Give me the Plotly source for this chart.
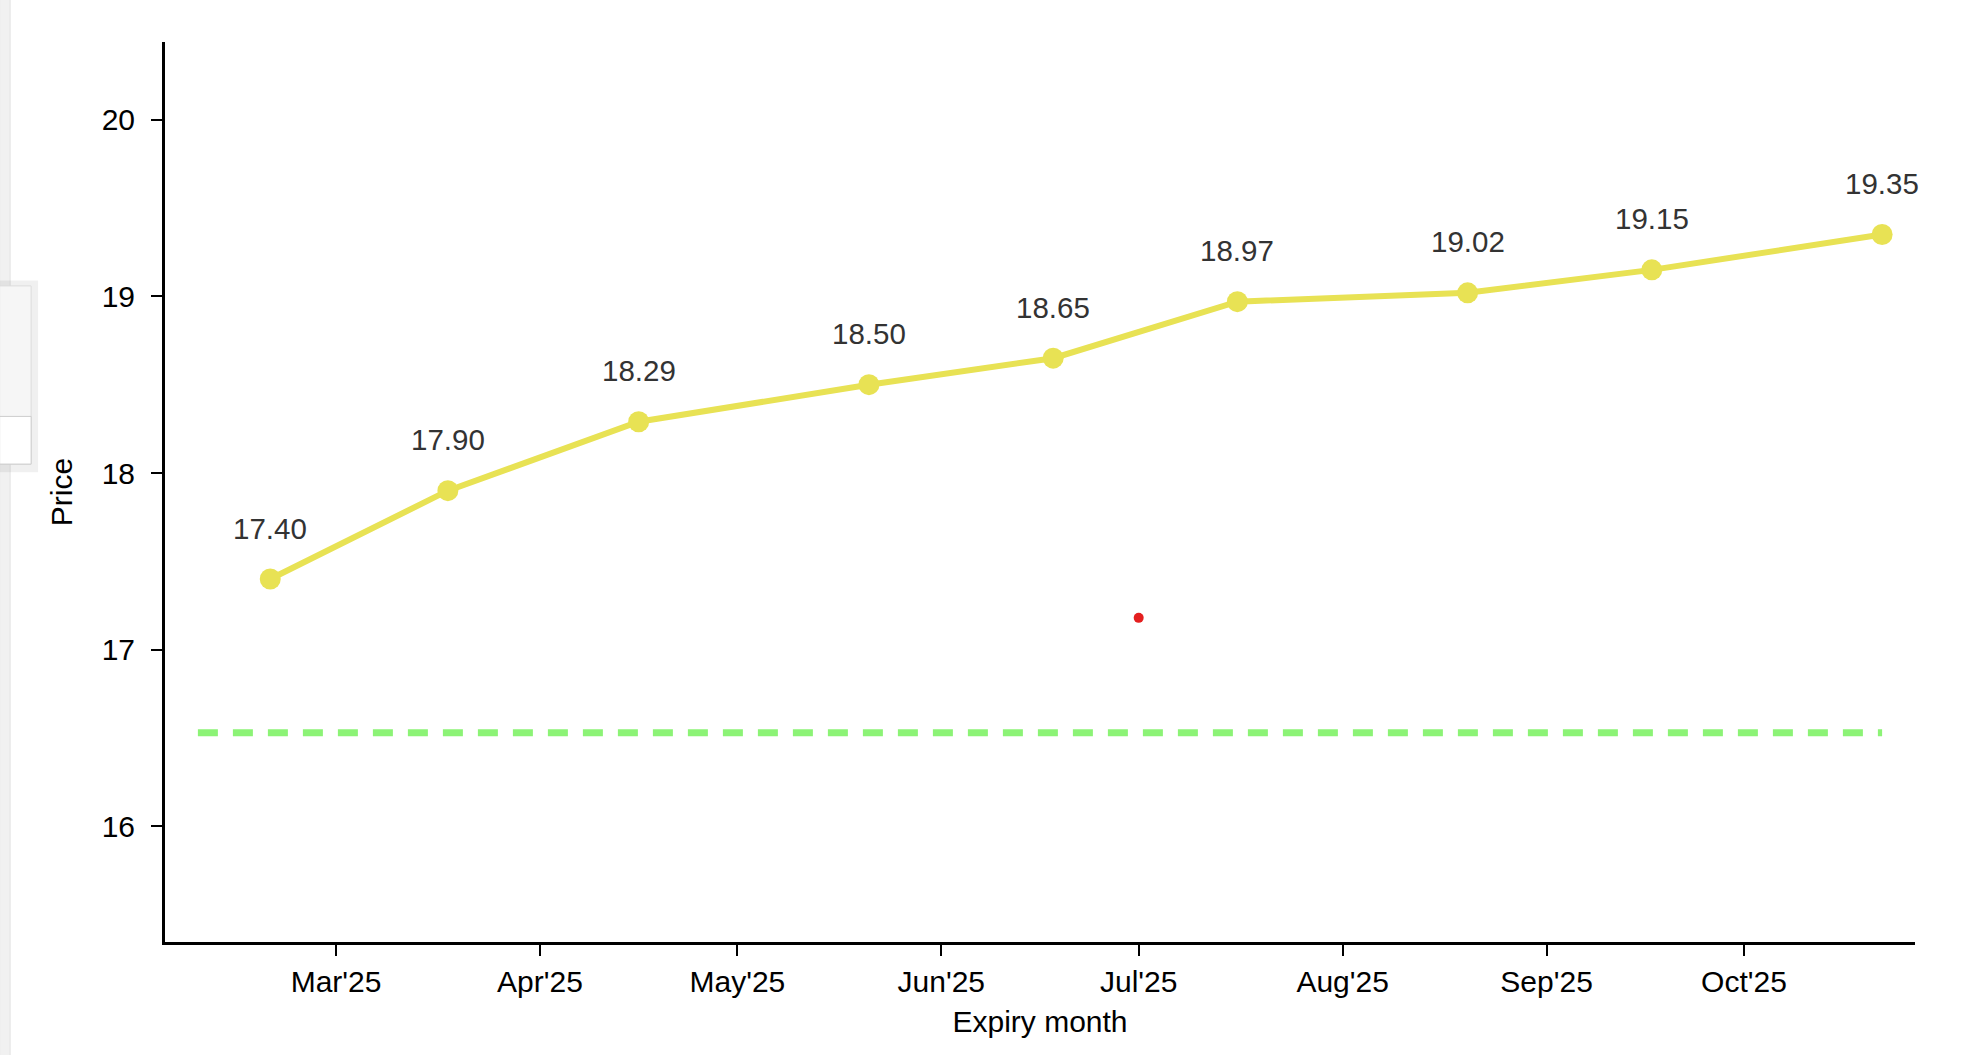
import plotly.graph_objects as go

# VIX-style futures curve by expiry
expiry = ["2025-02-19", "2025-03-18", "2025-04-16", "2025-05-21", "2025-06-18",
          "2025-07-16", "2025-08-20", "2025-09-17", "2025-10-22"]
price = [17.40, 17.90, 18.29, 18.50, 18.65, 18.97, 19.02, 19.15, 19.35]
price_labels = ["%.2f" % p for p in price]

# spot level drawn as a dashed reference line
spot_x = ["2025-02-08", "2025-10-22"]
spot_y = [16.53, 16.53]

# single red marker
marker_x = ["2025-07-01"]
marker_y = [17.18]

font_family = "Arial, Liberation Sans, sans-serif"

fig = go.Figure()
fig.add_trace(go.Scatter(x=spot_x, y=spot_y, mode="lines",
                         line=dict(color="#8cf376", width=7, dash="20px,15px"),
                         hoverinfo="skip"))
fig.add_trace(go.Scatter(x=expiry, y=price, mode="lines+markers",
                         line=dict(color="#e8e254", width=6),
                         marker=dict(size=21, color="#e8e254", line=dict(width=0))))
fig.add_trace(go.Scatter(x=marker_x, y=marker_y, mode="markers",
                         marker=dict(size=10, color="#e41f1f", line=dict(width=0))))

for x, y, t in zip(expiry, price, price_labels):
    fig.add_annotation(x=x, y=y, text=t, showarrow=False, yshift=51,
                       font=dict(family=font_family, size=29.5, color="#333333"))

# screenshot chrome on the left edge
fig.add_shape(type="rect", xref="paper", yref="paper",
              x0=-0.0945, x1=-0.0885, y0=-0.2, y1=1.1,
              fillcolor="#f1f1f1", line=dict(color="#e2e2e2", width=1), layer="below")
fig.add_shape(type="rect", xref="paper", yref="paper",
              x0=-0.0945, x1=-0.0725, y0=0.522, y1=0.735,
              fillcolor="rgba(0,0,0,0.06)", line=dict(width=0))
fig.add_shape(type="rect", xref="paper", yref="paper",
              x0=-0.0945, x1=-0.0765, y0=0.531, y1=0.729,
              fillcolor="#f6f6f6", line=dict(color="#dddddd", width=1))
fig.add_shape(type="rect", xref="paper", yref="paper",
              x0=-0.0945, x1=-0.0765, y0=0.531, y1=0.584,
              fillcolor="#ffffff", line=dict(color="#cccccc", width=1))

fig.update_layout(
    width=1975, height=1055,
    margin=dict(l=165, r=60, t=42, b=113),
    plot_bgcolor="white", paper_bgcolor="white",
    showlegend=False,
    font=dict(family=font_family, size=30, color="#000000"),
    xaxis=dict(
        title=dict(text="Expiry month", font=dict(size=30), standoff=14),
        type="date", range=["2025-02-03", "2025-10-27"],
        dtick="M1", tick0="2025-03-01", tickformat="%b'%y",
        showgrid=False, zeroline=False,
        showline=True, linecolor="black", linewidth=3,
        ticks="outside", ticklen=11, tickwidth=2, tickcolor="black",
        tickfont=dict(size=30),
    ),
    yaxis=dict(
        title=dict(text="Price", font=dict(size=30), standoff=21),
        range=[15.345, 20.44],
        dtick=1, showgrid=False, zeroline=False,
        showline=True, linecolor="black", linewidth=3,
        ticks="outside", ticklen=11, tickwidth=2, tickcolor="black",
        tickfont=dict(size=30), ticklabelstandoff=10,
    ),
)

fig.write_html("out.html", config={"displayModeBar": False},
               post_script="document.body.style.margin='0px';")
